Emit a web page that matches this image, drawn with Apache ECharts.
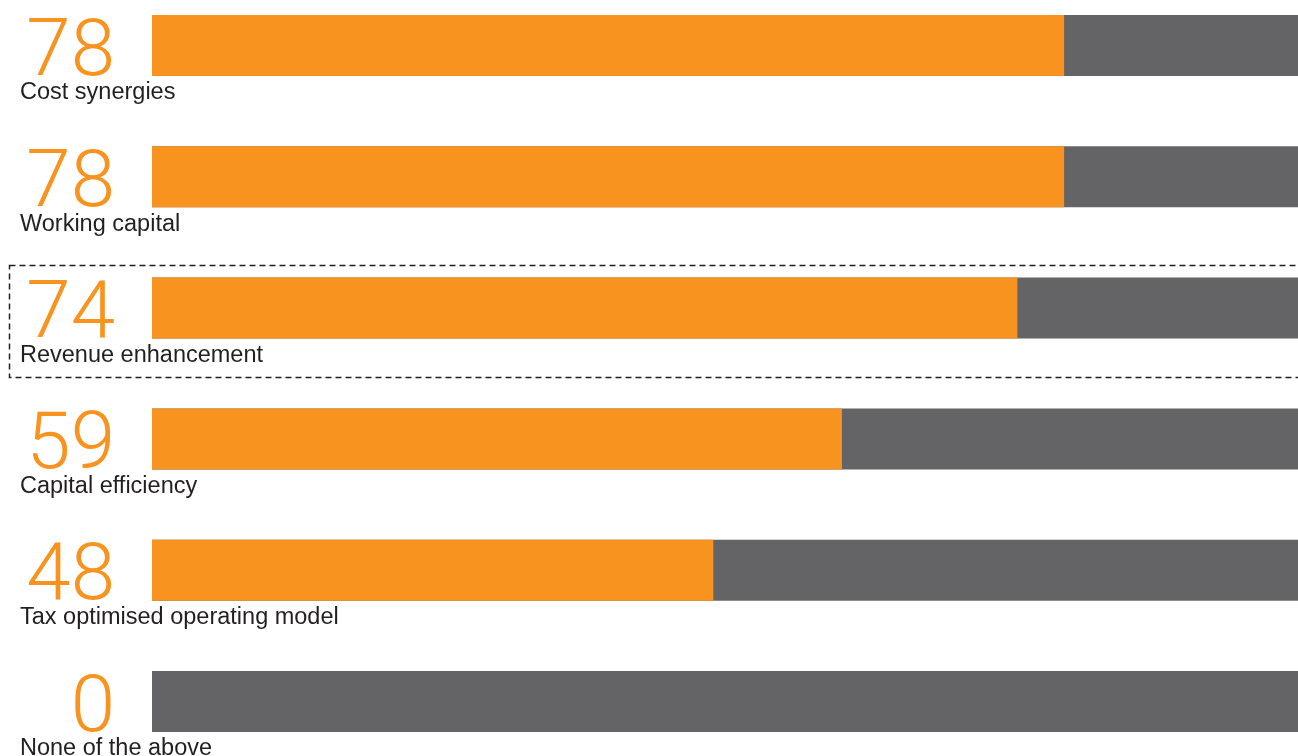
<!DOCTYPE html>
<html><head><meta charset="utf-8">
<script src="https://cdn.jsdelivr.net/npm/echarts@6/dist/echarts.min.js"></script>
<style>html,body{margin:0;padding:0;background:#fff}#c{width:1298px;height:756px}</style>
</head><body><div id="c"></div>
<script>
const categories = ['Cost synergies','Working capital','Revenue enhancement','Capital efficiency','Tax optimised operating model','None of the above'];
const values = [78, 78, 74, 59, 48, 0];
const scaleMax = 98;

const chart = echarts.init(document.getElementById('c'));
chart.setOption({
  animation: false,
  grid: {left: 152, right: 0, top: 45.5, height: 656, outerBoundsMode: 'none'},
  xAxis: {type: 'value', min: 0, max: scaleMax, show: false},
  yAxis: {
    type: 'category', inverse: true, data: categories, boundaryGap: false,
    show: false
  },
  graphic: [{
    type: 'rect', shape: {x: 9.5, y: 265.5, width: 1300, height: 112},
    style: {fill: 'none', stroke: '#231F20', lineWidth: 1.5, lineDash: [6, 4]}, z: 10
  }],
  series: [{
    type: 'bar', data: values, barWidth: 61, clip: false,
    itemStyle: {color: '#F7931E'},
    showBackground: true,
    backgroundStyle: {color: '#646466'},
    label: {
      show: true, position: 'left', distance: 37, offset: [0, 9],
      color: '#F7931E', fontFamily: 'Roboto', fontWeight: 300, fontSize: 80,
      formatter: p => String(p.value)
    }
  }, {
    type: 'bar', data: values, barWidth: 61, barGap: '-100%', clip: false,
    itemStyle: {color: 'rgba(0,0,0,0)'},
    label: {
      show: true, position: [-132, 78], align: 'left', verticalAlign: 'middle',
      color: '#231F20', fontFamily: 'Liberation Sans', fontSize: 23.5,
      formatter: p => p.name
    }
  }]
});
</script></body></html>
